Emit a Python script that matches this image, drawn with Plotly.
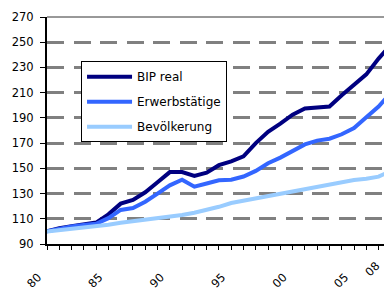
import plotly.graph_objects as go

# ---- data ----
years = list(range(1980, 2009))
bip_real = [100, 102.5, 104, 105.5, 107, 113.5, 122, 125, 131, 139,
            147, 147, 144, 146.5, 152.5, 155.5, 159.5, 170, 179, 185.5,
            192.5, 197.5, 198, 199, 208, 216.5, 224.5, 237, 248]
erwerbstaetige = [100, 102.3, 103.8, 105, 106, 110.5, 117, 118.5, 123.5, 130,
                  136.5, 141, 135.5, 138, 140.5, 141, 143.5, 148, 154, 158.5,
                  163.5, 169, 172, 173.5, 177, 182, 190.5, 199, 210]
bevoelkerung = [100, 101, 102, 102.8, 103.8, 105.3, 106.8, 108, 109.2, 110.3,
                111.5, 113, 114.8, 117, 119.5, 122.5, 124.3, 126, 127.7, 129.5,
                131.4, 133.4, 135.5, 137.3, 139.2, 140.7, 141.7, 143.4, 148]

series_names = ["BIP real", "Erwerbstätige", "Bevölkerung"]
series_values = [bip_real, erwerbstaetige, bevoelkerung]
series_colors = ["#000080", "#3366FF", "#99CCFF"]

x_label_years = [1980, 1985, 1990, 1995, 2000, 2005, 2008]
x_labels = ["80", "85", "90", "95", "00", "05", "08"]
y_ticks = list(range(90, 271, 20))

FONT = "DejaVu Sans"
W, H = 384, 291
ML, MR, MT, MB = 47, 0, 17, 33
x_min, x_max = 1980, 2007.44

fig = go.Figure()
for name, vals, col in zip(series_names, series_values, series_colors):
    fig.add_trace(go.Scatter(
        x=years, y=vals, name=name, mode="lines",
        line=dict(color=col, width=4), legendgroup=name,
    ))

label_map = dict(zip(x_label_years, x_labels))
tick_years = [y for y in years if y <= x_max]
tick_text = [label_map.get(y, "") for y in tick_years]

fig.update_xaxes(
    range=[x_min, x_max], tickmode="array", tickvals=tick_years, ticktext=tick_text,
    tickangle=-45, ticks="outside", ticklen=4, tickwidth=1, tickcolor="black",
    showline=True, linecolor="black", linewidth=2, showgrid=False, zeroline=False,
    ticklabelstandoff=16, ticklabelshift=-9,
    tickfont=dict(family=FONT, size=11.5, color="black"),
)
fig.update_yaxes(
    range=[90, 270], tickmode="array", tickvals=y_ticks,
    ticks="outside", ticklen=5, tickwidth=1, tickcolor="black",
    showline=True, linecolor="black", linewidth=2,
    showgrid=True, gridcolor="#808080", gridwidth=3, griddash="17px,9.5px",
    zeroline=False, ticklabelstandoff=4,
    tickfont=dict(family=FONT, size=11.5, color="black"),
)

# label for the last (partly cut) category
fig.add_annotation(
    x=0.965, y=-0.11,
    xref="paper", yref="paper", text=x_labels[-1], showarrow=False,
    textangle=-45, xanchor="center", yanchor="middle",
    font=dict(family=FONT, size=11.5, color="black"),
)
# thin top border line
fig.add_shape(type="line", xref="paper", yref="paper", x0=0, x1=1, y0=1, y1=1,
              line=dict(color="#333333", width=1))

fig.update_layout(
    width=W, height=H, margin=dict(l=ML, r=MR, t=MT, b=MB),
    paper_bgcolor="white", plot_bgcolor="white",
    font=dict(family=FONT, size=12, color="black"),
    showlegend=True,
    legend=dict(
        x=0.101, y=0.805, xanchor="left", yanchor="top",
        bgcolor="white", bordercolor="black", borderwidth=1,
        font=dict(family=FONT, size=12, color="black"),
        traceorder="grouped", tracegroupgap=6, itemwidth=45,
        entrywidth=97, entrywidthmode="pixels",
    ),
)

fig.write_html(
    "out.html",
    config={"displayModeBar": False, "staticPlot": True},
    post_script="document.body.style.margin='0';document.body.style.padding='0';"
                "document.body.style.overflow='hidden';",
)
